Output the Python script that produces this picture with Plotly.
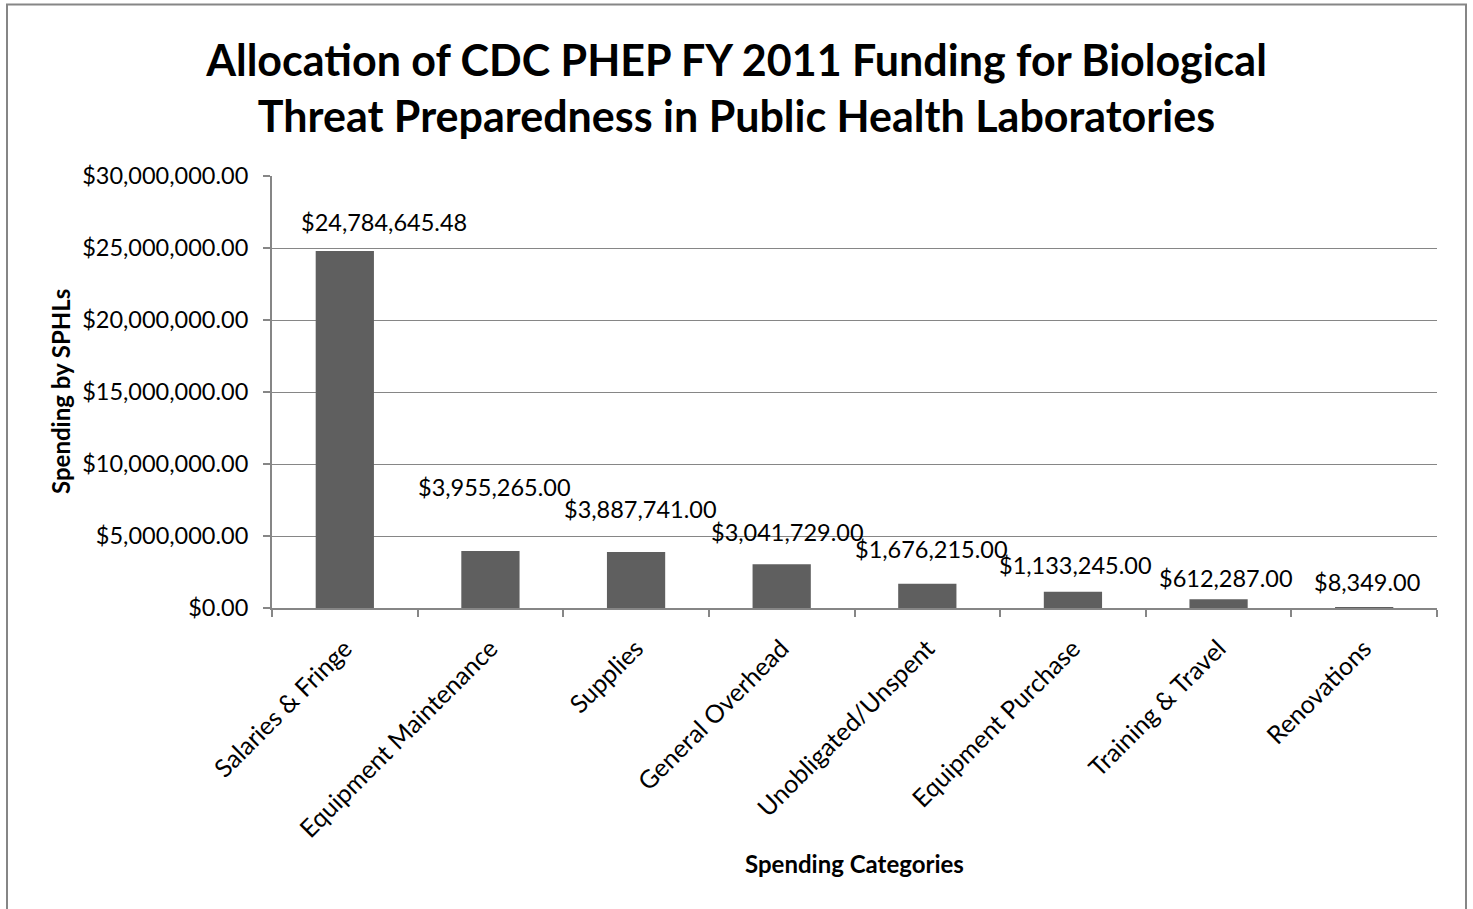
import plotly.graph_objects as go

# ---- data ----
categories = ["Salaries & Fringe", "Equipment Maintenance", "Supplies", "General Overhead",
              "Unobligated/Unspent", "Equipment Purchase", "Training & Travel", "Renovations"]
spending = [24784645.48, 3955265.00, 3887741.00, 3041729.00, 1676215.00, 1133245.00, 612287.00, 8349.00]
y_ticks = [0, 5e6, 10e6, 15e6, 20e6, 25e6, 30e6]

title_text = "Allocation of CDC PHEP FY 2011 Funding for Biological<br>Threat Preparedness in Public Health Laboratories"
x_title = "Spending Categories"
y_title = "Spending by SPHLs"

# label placement offsets (pixels) relative to bar tops, mimicking the moved labels
label_dx = [39, 4, 4, 6, 4, 3, 7, 3]
label_dy = [29, 64, 43, 32, 35, 27, 21, 26]

FONT = "Lato, 'Open Sans', sans-serif"
GREY = "#868686"

fig = go.Figure()
fig.add_trace(go.Bar(x=categories, y=spending, marker=dict(color="#5f5f5f", line=dict(width=0)),
                     hoverinfo="x+y"))

for c, v, dx, dy in zip(categories, spending, label_dx, label_dy):
    fig.add_annotation(x=c, y=v, xref="x", yref="y", text="${:,.2f}".format(v),
                       showarrow=False, xanchor="center", yanchor="middle",
                       xshift=dx, yshift=dy, font=dict(family=FONT, size=23.5, color="#000000"))

L, R, T, B = 272, 36, 176, 301
W, H = 1473, 909
pw, ph = W - L - R, H - T - B

# chart border
fig.add_shape(type="rect", xref="paper", yref="paper",
              x0=(7 - L) / pw, x1=(1466 - L) / pw,
              y0=(H - B - 920) / ph, y1=(H - B - 4.5) / ph,
              line=dict(color=GREY, width=2), fillcolor="rgba(0,0,0,0)", layer="below")

# axis titles
fig.add_annotation(xref="paper", yref="paper", x=0.5, y=(H - B - 863) / ph, text="<b>" + x_title + "</b>",
                   showarrow=False, xanchor="center", yanchor="middle",
                   font=dict(family=FONT, size=24, color="#000000"))
fig.add_annotation(xref="paper", yref="paper", x=(60 - L) / pw, y=0.5, text="<b>" + y_title + "</b>",
                   showarrow=False, xanchor="center", yanchor="middle", textangle=-90,
                   font=dict(family=FONT, size=24, color="#000000"))

fig.update_layout(
    width=W, height=H,
    margin=dict(l=L, r=R, t=T, b=B, pad=0),
    paper_bgcolor="white", plot_bgcolor="white",
    bargap=0.6, showlegend=False,
    title=dict(text="<b>" + title_text + "</b>", x=0.5, xref="container", xanchor="center",
               y=1 - 76 / H, yref="container", yanchor="middle",
               font=dict(family=FONT, size=43, color="#000000")),
    font=dict(family=FONT, size=23.5, color="#000000"),
)
fig.update_xaxes(type="category", showline=True, linecolor=GREY, linewidth=2,
                 ticks="outside", tickson="boundaries", ticklen=7, tickcolor=GREY, tickwidth=2,
                 tickangle=-45, showgrid=False, ticklabelstandoff=14,
                 tickfont=dict(family=FONT, size=25, color="#000000"))
fig.update_yaxes(range=[0, 30e6], tickvals=y_ticks, tickformat="$,.2f",
                 showgrid=True, gridcolor=GREY, gridwidth=1, zeroline=False,
                 showline=True, linecolor=GREY, linewidth=2,
                 ticks="outside", ticklen=7, tickcolor=GREY, tickwidth=2, ticklabelstandoff=10,
                 tickfont=dict(family=FONT, size=23.5, color="#000000"))

fig.write_html("out.html", config={"displayModeBar": False},
               post_script="document.body.style.margin='0';document.body.style.overflow='hidden';")
